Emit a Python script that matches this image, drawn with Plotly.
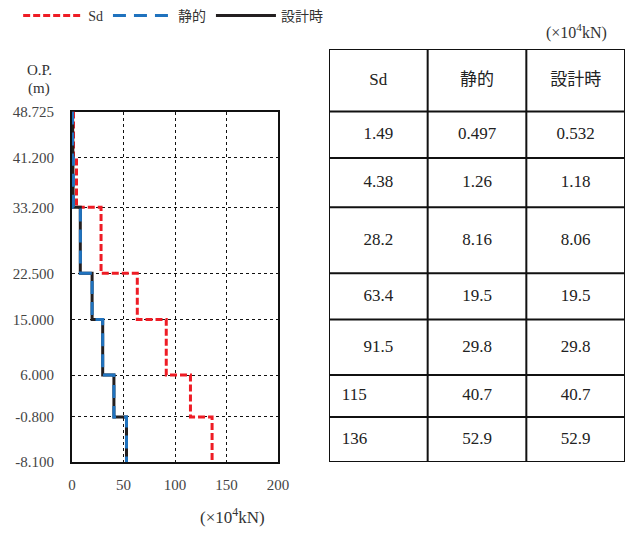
import plotly.graph_objects as go

# ---------------- data ----------------
depth_ticks = [48.725, 41.2, 33.2, 22.5, 15.0, 6.0, -0.8, -8.1]
depth_labels = ["48.725", "41.200", "33.200", "22.500", "15.000", "6.000", "-0.800", "-8.100"]
sd_values = [1.49, 4.38, 28.2, 63.4, 91.5, 115, 136]
static_values = [0.497, 1.26, 8.16, 19.5, 29.8, 40.7, 52.9]
design_values = [0.532, 1.18, 8.06, 19.5, 29.8, 40.7, 52.9]
series_names = ["Sd", "静的", "設計時"]
x_ticks = [0, 50, 100, 150, 200]
unit_label = "(×10<sup>4</sup>kN)"

FONT = "Liberation Serif, Noto Sans CJK JP, serif"
W, H = 626, 536


def step_profile(values):
    xs, ys = [], []
    for i, v in enumerate(values):
        xs += [v, v]
        ys += [depth_ticks[i], depth_ticks[i + 1]]
    return xs, ys


fig = go.Figure()

styles = {
    "設計時": dict(color="#231f20", width=3, dash="solid"),
    "静的": dict(color="#1f72be", width=3, dash="13px,8px"),
    "Sd": dict(color="#ee1c25", width=3, dash="7px,3px"),
}
series = {"Sd": sd_values, "静的": static_values, "設計時": design_values}
# drawing order: Sd at the bottom, then 設計時, then 静的 on top
for name in ["Sd", "設計時", "静的"]:
    xs, ys = step_profile(series[name])
    fig.add_trace(go.Scatter(x=xs, y=ys, mode="lines", name=name, line=styles[name],
                             legendrank=series_names.index(name) + 1,
                             xaxis="x", yaxis="y"))

# ---------------- layout geometry ----------------
px0, px1 = 72 / W, 278 / W
py0, py1 = (H - 462) / H, (H - 111.5) / H
tx0, tx1 = 329 / W, 625 / W
ty1 = (H - 49) / H
yspan = depth_ticks[0] - depth_ticks[-1]
table_top = depth_ticks[0] + (ty1 - py1) / (py1 - py0) * yspan

# ---------------- table ----------------
ncol = len(series_names)
columns = [sd_values, static_values, design_values]
header_mid = (depth_ticks[0] + table_top) / 2
fig.add_trace(go.Scatter(x=[c + 0.5 for c in range(ncol)], y=[header_mid] * ncol,
                         text=series_names, mode="text", showlegend=False,
                         textfont=dict(family=FONT, size=17, color="#222"),
                         xaxis="x2", yaxis="y2", hoverinfo="skip"))
row_mid = [(depth_ticks[i] + depth_ticks[i + 1]) / 2 for i in range(len(sd_values))]
for c, vals in enumerate(columns):
    centered_x, centered_y, centered_t = [], [], []
    left_x, left_y, left_t = [], [], []
    for r, v in enumerate(vals):
        s = f"{v:g}"
        if c == 0 and v >= 100:
            left_x.append(c + 0.13); left_y.append(row_mid[r]); left_t.append(s)
        else:
            centered_x.append(c + 0.5); centered_y.append(row_mid[r]); centered_t.append(s)
    fig.add_trace(go.Scatter(x=centered_x, y=centered_y, text=centered_t, mode="text",
                             showlegend=False, textposition="middle center",
                             textfont=dict(family=FONT, size=17, color="#222"),
                             xaxis="x2", yaxis="y2", hoverinfo="skip"))
    if left_x:
        fig.add_trace(go.Scatter(x=left_x, y=left_y, text=left_t, mode="text",
                                 showlegend=False, textposition="middle right",
                                 textfont=dict(family=FONT, size=17, color="#222"),
                                 xaxis="x2", yaxis="y2", hoverinfo="skip"))

shapes = []
for yb in [table_top] + depth_ticks:
    shapes.append(dict(type="line", xref="x2", yref="y2", x0=0, x1=ncol, y0=yb, y1=yb,
                       line=dict(color="#111", width=2)))
for xc in range(ncol + 1):
    shapes.append(dict(type="line", xref="x2", yref="y2", x0=xc, x1=xc,
                       y0=depth_ticks[-1], y1=table_top, line=dict(color="#111", width=2)))


def note(text, x, y, size):
    return dict(text=text, x=x / W, y=(H - y) / H, xref="paper", yref="paper",
                xanchor="center", yanchor="middle", showarrow=False,
                font=dict(family=FONT, size=size, color="#333"))


annotations = [
    note("O.P.", 39, 70, 15),
    note("(m)", 39, 89, 15),
    note(unit_label, 232, 516, 17),
    note(unit_label, 576, 31, 16),
]

fig.update_layout(
    width=W, height=H,
    margin=dict(l=0, r=0, t=0, b=0, autoexpand=False),
    paper_bgcolor="white", plot_bgcolor="white",
    font=dict(family=FONT, size=14, color="#333"),
    showlegend=True,
    legend=dict(orientation="h", x=0.029, y=1.0, xanchor="left", yanchor="top",
                xref="container", yref="container",
                traceorder="normal", font=dict(family=FONT, size=14, color="#333"),
                itemwidth=60, bgcolor="rgba(0,0,0,0)"),
    xaxis=dict(domain=[px0, px1], range=[0, 200], tickvals=x_ticks, automargin=False,
               showgrid=True, gridcolor="#111", griddash="dot", gridwidth=1,
               showline=True, linecolor="#111", linewidth=2, mirror=True,
               zeroline=False, ticks="", ticklabelstandoff=8, layer="below traces",
               tickfont=dict(family=FONT, size=15, color="#444")),
    yaxis=dict(domain=[py0, py1], range=[depth_ticks[-1], depth_ticks[0]], automargin=False,
               tickvals=depth_ticks, ticktext=depth_labels,
               showgrid=True, gridcolor="#111", griddash="dot", gridwidth=1,
               showline=True, linecolor="#111", linewidth=2, mirror=True,
               zeroline=False, ticks="", ticklabelstandoff=13, layer="below traces",
               tickfont=dict(family=FONT, size=15, color="#444")),
    xaxis2=dict(domain=[tx0, tx1], range=[0, ncol], visible=False, anchor="y2", automargin=False),
    yaxis2=dict(domain=[py0, ty1], range=[depth_ticks[-1], table_top], visible=False,
                anchor="x2", automargin=False),
    shapes=shapes,
    annotations=annotations,
)

fig.write_html("out.html", config={"displayModeBar": False},
               post_script="document.body.style.margin='0px';")
